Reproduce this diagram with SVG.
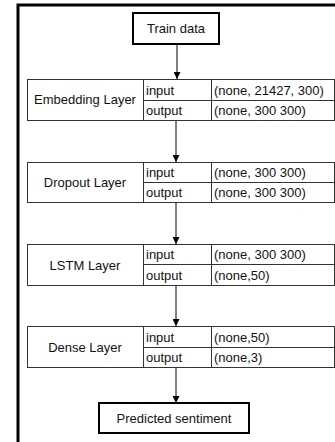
<svg xmlns="http://www.w3.org/2000/svg" width="335" height="442" viewBox="0 0 335 442">
<defs>
<marker id="ah" viewBox="0 0 10 10" refX="10" refY="5" markerWidth="7" markerHeight="7" markerUnits="userSpaceOnUse" orient="auto">
<path d="M0,0 L10,5 L0,10 z" fill="#000"/>
</marker>
<style>
text{font-family:"Liberation Sans",Arial,sans-serif;font-size:13px;fill:#111}
.c{text-anchor:middle}
.box{fill:#fff;stroke:#000;stroke-width:2}
.tbl{fill:#fff;stroke:#333;stroke-width:1}
.ln{stroke:#333;stroke-width:1;fill:none}
.conn{stroke:#000;stroke-width:1;fill:none;marker-end:url(#ah)}
</style>
</defs>
<rect width="335" height="442" fill="#fff"/>
<path d="M18,442 V5 H335" fill="none" stroke="#000" stroke-width="3"/>
<g id="connectors">
<line class="conn" x1="177" y1="44" x2="177" y2="79"/>
<line class="conn" x1="176" y1="120" x2="176" y2="162"/>
<line class="conn" x1="176" y1="202" x2="176" y2="244"/>
<line class="conn" x1="176" y1="285" x2="176" y2="326"/>
<line class="conn" x1="176" y1="367" x2="176" y2="403"/>
</g>
<g id="train-data">
<rect class="box" x="133" y="13" width="86" height="31"/>
<text class="c" x="176" y="33">Train data</text>
</g>
<g id="embedding-layer">
<rect class="tbl" x="27.5" y="79.5" width="307" height="41"/>
<path class="ln" d="M143.5,79.5 V120.5 M211.5,79.5 V120.5 M143.5,100.5 H334.5"/>
<text class="c" x="85" y="104">Embedding Layer</text>
<text x="146" y="95">input</text>
<text x="146" y="115">output</text>
<text x="214" y="95">(none, 21427, 300)</text>
<text x="214" y="115">(none, 300 300)</text>
</g>
<g id="dropout-layer">
<rect class="tbl" x="27.5" y="162.5" width="307" height="40"/>
<path class="ln" d="M143.5,162.5 V202.5 M211.5,162.5 V202.5 M143.5,182.5 H334.5"/>
<text class="c" x="85" y="187">Dropout Layer</text>
<text x="146" y="177">input</text>
<text x="146" y="197">output</text>
<text x="214" y="177">(none, 300 300)</text>
<text x="214" y="197">(none, 300 300)</text>
</g>
<g id="lstm-layer">
<rect class="tbl" x="27.5" y="244.5" width="307" height="41"/>
<path class="ln" d="M143.5,244.5 V285.5 M211.5,244.5 V285.5 M143.5,264.5 H334.5"/>
<text class="c" x="85" y="270">LSTM Layer</text>
<text x="146" y="259">input</text>
<text x="146" y="280">output</text>
<text x="214" y="259">(none, 300 300)</text>
<text x="214" y="280">(none,50)</text>
</g>
<g id="dense-layer">
<rect class="tbl" x="27.5" y="326.5" width="307" height="41"/>
<path class="ln" d="M143.5,326.5 V367.5 M211.5,326.5 V367.5 M143.5,347.5 H334.5"/>
<text class="c" x="85" y="352">Dense Layer</text>
<text x="146" y="342">input</text>
<text x="146" y="362">output</text>
<text x="214" y="342">(none,50)</text>
<text x="214" y="362">(none,3)</text>
</g>
<g id="predicted-sentiment">
<rect class="box" x="99" y="403" width="150" height="30"/>
<text class="c" x="174" y="423">Predicted sentiment</text>
</g>
</svg>
